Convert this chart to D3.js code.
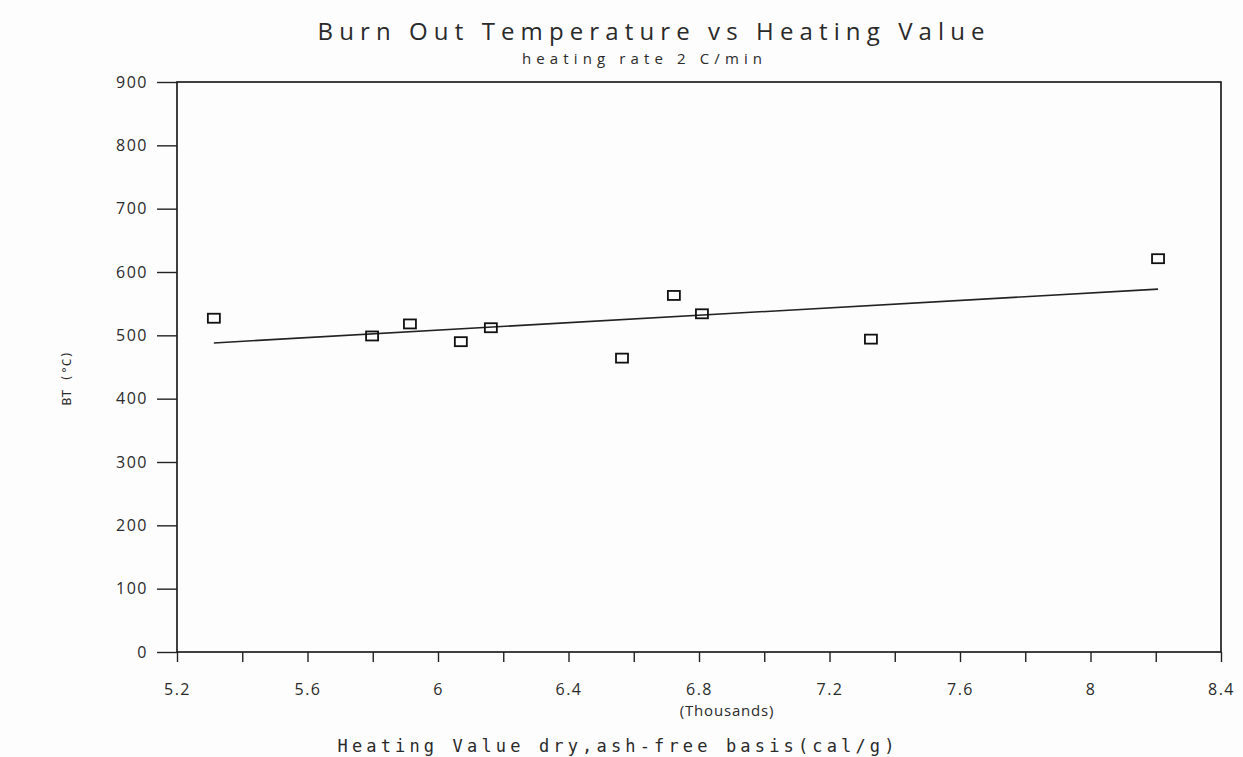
<!DOCTYPE html>
<html>
<head>
<meta charset="utf-8">
<script src="https://cdn.jsdelivr.net/npm/d3@7"></script>
<style>
  body { margin: 0; background: #fdfdfd; }
  svg { display: block; }
</style>
</head>
<body>
<div id="chart"></div>
<script>
// data
const heatingValue = [5.313, 5.798, 5.914, 6.070, 6.162, 6.564, 6.723, 6.809, 7.327, 8.207];
const burnOutTemp = [527, 499, 518, 490, 512, 464, 563, 534, 494, 621];
// fitted line ends (as drawn)
const fitX = [5.313, 8.207];
const fitY = [488, 573];
const xTicks = [5.2, 5.4, 5.6, 5.8, 6, 6.2, 6.4, 6.6, 6.8, 7, 7.2, 7.4, 7.6, 7.8, 8, 8.2, 8.4];
const xLabels = [5.2, 5.6, 6, 6.4, 6.8, 7.2, 7.6, 8, 8.4];
const yTicks = [0, 100, 200, 300, 400, 500, 600, 700, 800, 900];

const width = 1243;
const height = 757;
const margin = {top: 82, right: 22, bottom: 105, left: 177};

const svg = d3.select("#chart")
    .append("svg")
    .attr("width", width)
    .attr("height", height);

const x = d3.scaleLinear()
    .domain([5.2, 8.4])
    .range([margin.left, width - margin.right]);

const y = d3.scaleLinear()
    .domain([0, 900])
    .range([height - margin.bottom, margin.top]);

const labelFont = "'Open Sans', 'DejaVu Sans', sans-serif";
const textColor = "#2a2a2a";

// frame
svg.append("rect")
    .attr("x", x(5.2))
    .attr("y", y(900))
    .attr("width", x(8.4) - x(5.2))
    .attr("height", y(0) - y(900))
    .attr("fill", "none")
    .attr("stroke", "#111")
    .attr("stroke-width", 1.6);

// y axis
const yAxis = svg.append("g")
    .attr("transform", `translate(${x(5.2)},0)`)
    .call(d3.axisLeft(y).tickValues(yTicks).tickSize(20).tickPadding(9).tickFormat(d3.format("d")));
yAxis.select(".domain").remove();
yAxis.selectAll("line").attr("stroke", "#222").attr("stroke-width", 1.4);
yAxis.selectAll("text")
    .attr("fill", textColor)
    .style("font-family", labelFont)
    .style("font-size", "16px")
    .style("letter-spacing", "1.5px");

// x axis ticks every 0.2, labels every 0.4
const xAxis = svg.append("g")
    .attr("transform", `translate(0,${y(0)})`)
    .call(d3.axisBottom(x).tickValues(xTicks).tickSize(10).tickPadding(22)
        .tickFormat(d => xLabels.some(v => Math.abs(v - d) < 1e-9) ? d3.format("~g")(d) : ""));
xAxis.select(".domain").remove();
xAxis.selectAll("line").attr("stroke", "#222").attr("stroke-width", 1.4);
xAxis.selectAll("text")
    .attr("fill", textColor)
    .style("font-family", labelFont)
    .style("font-size", "16px")
    .style("letter-spacing", "1.5px");

// trend line
const line = d3.line()
    .x(d => x(d[0]))
    .y(d => y(d[1]));

svg.append("path")
    .datum(d3.zip(fitX, fitY))
    .attr("d", line)
    .attr("fill", "none")
    .attr("stroke", "#222")
    .attr("stroke-width", 1.6);

// square markers
svg.selectAll(".pt")
    .data(d3.zip(heatingValue, burnOutTemp))
    .enter().append("rect")
    .attr("class", "pt")
    .attr("x", d => x(d[0]) - 6)
    .attr("y", d => y(d[1]) - 4.5)
    .attr("width", 12)
    .attr("height", 9)
    .attr("fill", "none")
    .attr("stroke", "#111")
    .attr("stroke-width", 1.8);

// titles
svg.append("text")
    .attr("x", 651)
    .attr("y", 40)
    .attr("text-anchor", "middle")
    .attr("textLength", 667)
    .attr("lengthAdjust", "spacing")
    .attr("fill", textColor)
    .style("font-family", labelFont)
    .style("font-size", "24px")
    .text("Burn Out Temperature vs Heating Value");

svg.append("text")
    .attr("x", 642)
    .attr("y", 64)
    .attr("text-anchor", "middle")
    .attr("textLength", 240)
    .attr("lengthAdjust", "spacing")
    .attr("fill", textColor)
    .style("font-family", labelFont)
    .style("font-size", "15px")
    .text("heating rate 2 C/min");

svg.append("text")
    .attr("x", 727)
    .attr("y", 716)
    .attr("text-anchor", "middle")
    .attr("fill", textColor)
    .style("font-family", labelFont)
    .style("font-size", "15px")
    .style("letter-spacing", "0.8px")
    .text("(Thousands)");

svg.append("text")
    .attr("x", 616)
    .attr("y", 752)
    .attr("text-anchor", "middle")
    .attr("textLength", 557)
    .attr("lengthAdjust", "spacing")
    .attr("fill", textColor)
    .style("font-family", "'DejaVu Sans Mono', monospace")
    .style("font-size", "17px")
    .text("Heating Value dry,ash-free basis(cal/g)");

svg.append("text")
    .attr("transform", "translate(71,378) rotate(-90)")
    .attr("text-anchor", "middle")
    .attr("fill", textColor)
    .style("font-family", "'DejaVu Sans Mono', monospace")
    .style("font-size", "13px")
    .text("BT (°C)");
</script>
</body>
</html>
